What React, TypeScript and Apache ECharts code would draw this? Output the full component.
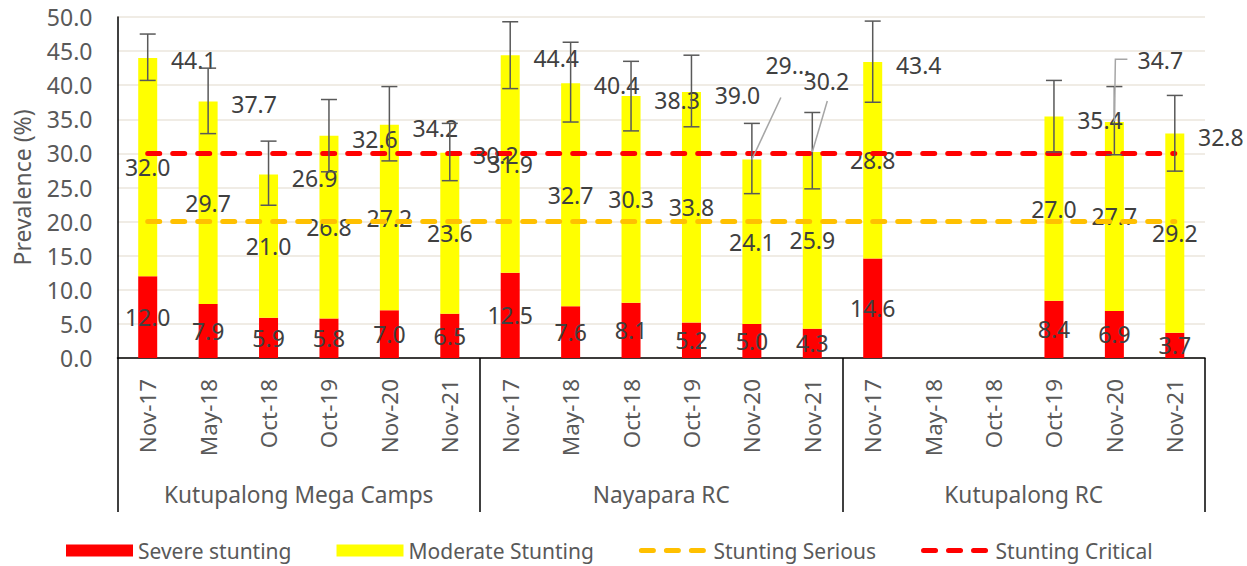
import React, { useEffect, useRef } from "react";
import * as echarts from "echarts";

// ---- data ----
const categories = [
  "Nov-17", "May-18", "Oct-18", "Oct-19", "Nov-20", "Nov-21",
  "Nov-17", "May-18", "Oct-18", "Oct-19", "Nov-20", "Nov-21",
  "Nov-17", "May-18", "Oct-18", "Oct-19", "Nov-20", "Nov-21",
];
const groups = ["Kutupalong Mega Camps", "Nayapara RC", "Kutupalong RC"];

const severe = [12.0, 7.9, 5.9, 5.8, 7.0, 6.5, 12.5, 7.6, 8.1, 5.2, 5.0, 4.3, 14.6, null, null, 8.4, 6.9, 3.7];
const moderate = [32.0, 29.7, 21.0, 26.8, 27.2, 23.6, 31.9, 32.7, 30.3, 33.8, 24.1, 25.9, 28.8, null, null, 27.0, 27.7, 29.2];
const total = [44.1, 37.7, 26.9, 32.6, 34.2, 30.2, 44.4, 40.4, 38.3, 39.0, 29.1, 30.2, 43.4, null, null, 35.4, 34.7, 32.8];
const ciLow = [40.7, 32.9, 22.4, 27.3, 28.9, 26.0, 39.5, 34.6, 33.3, 33.9, 24.1, 24.8, 37.5, null, null, 30.2, 29.8, 27.4];
const ciHigh = [47.5, 42.5, 31.8, 37.9, 39.8, 34.4, 49.3, 46.3, 43.5, 44.4, 34.4, 36.0, 49.4, null, null, 40.7, 39.8, 38.5];
const stuntingSerious = [20, 20, 20, 20, 20, 20, 20, 20, 20, 20, 20, 20, 20, 20, 20, 20, 20, 20];
const stuntingCritical = [30, 30, 30, 30, 30, 30, 30, 30, 30, 30, 30, 30, 30, 30, 30, 30, 30, 30];
const yTicks = { min: 0, max: 50, interval: 5 };

// ---- layout / style config (pixel offsets for total labels) ----
const FONT = "Noto Sans";
const AXIS_TEXT = "#595959";
const LABEL_TEXT = "#404040";
const totalLabelOffset = { dx: 46, dy: 3 };
const callouts: Record<number, { dx: number; dy: number; line: number[][]; text?: string }> = {
  10: { dx: 36, dy: -95, line: [[0, 0], [29, -62]], text: "29..." },
  11: { dx: 14, dy: -71, line: [[0, 0], [15, -51]] },
  16: { dx: 46, dy: -61, line: [[0, 0], [1, -62], [13, -62]] },
};
const DASH = { width: 5, type: [12, 13], cap: "round" };

export default function App() {
  const ref = useRef<HTMLDivElement>(null);

  useEffect(() => {
    if (!ref.current) return;
    const chart = echarts.init(ref.current, undefined, { renderer: "svg" });

    const errData = total
      .map((t, i) => (t == null ? null : { value: [i, t, ciLow[i], ciHigh[i]] }))
      .filter((d) => d != null);

    const option: any = {
      animation: false,
      textStyle: { fontFamily: FONT },
      grid: { left: 117.5, right: 42, top: 17, bottom: 208, containLabel: false },
      legend: {
        left: 61,
        top: 535,
        itemWidth: 67,
        itemHeight: 12,
        itemGap: 45,
        textStyle: { fontSize: 21, color: AXIS_TEXT, fontFamily: FONT },
        data: [
          { name: "Severe stunting", icon: "rect" },
          { name: "Moderate Stunting", icon: "rect" },
          { name: "Stunting Serious", itemStyle: { opacity: 0 }, lineStyle: { width: 5 } },
          { name: "Stunting Critical", itemStyle: { opacity: 0 }, lineStyle: { width: 5 } },
        ],
      },
      xAxis: [
        {
          type: "category",
          data: categories,
          axisLine: { show: true, lineStyle: { color: "#000", width: 1.5 } },
          axisTick: { show: false },
          axisLabel: { rotate: 90, interval: 0, margin: 21, fontSize: 22.4, color: AXIS_TEXT, fontFamily: FONT },
          splitLine: { show: false },
        },
        {
          type: "category",
          data: groups,
          position: "bottom",
          axisLine: { show: false },
          axisTick: { show: true, length: 154, interval: 0, lineStyle: { color: "#000", width: 1.5 } },
          axisLabel: { interval: 0, margin: 125, fontSize: 22.7, color: AXIS_TEXT, fontFamily: FONT },
          splitLine: { show: false },
        },
      ],
      yAxis: {
        type: "value",
        min: yTicks.min,
        max: yTicks.max,
        interval: yTicks.interval,
        name: "Prevalence (%)",
        nameLocation: "middle",
        nameGap: 84,
        nameRotate: 90,
        nameTextStyle: { fontSize: 23, color: AXIS_TEXT, fontFamily: FONT },
        axisLine: { show: true, lineStyle: { color: "#000", width: 1.5 } },
        axisTick: { show: false },
        axisLabel: {
          formatter: (v: number) => v.toFixed(1),
          fontSize: 23,
          color: AXIS_TEXT,
          margin: 25,
          fontFamily: FONT,
        },
        splitLine: { show: true, lineStyle: { color: "#EBE6DC", width: 1.5 } },
      },
      series: [
        {
          name: "Severe stunting",
          type: "bar",
          stack: "s",
          barWidth: 19,
          data: severe,
          itemStyle: { color: "#FF0000" },
          label: {
            show: true,
            position: "inside",
            formatter: (p: any) => (p.value == null ? "" : Number(p.value).toFixed(1)),
            color: LABEL_TEXT,
            fontSize: 23,
            fontFamily: FONT,
          },
          z: 2,
        },
        {
          name: "Moderate Stunting",
          type: "bar",
          stack: "s",
          barWidth: 19,
          data: moderate,
          itemStyle: { color: "#FFFF00" },
          label: {
            show: true,
            position: "inside",
            formatter: (p: any) => (p.value == null ? "" : Number(p.value).toFixed(1)),
            color: LABEL_TEXT,
            fontSize: 23,
            fontFamily: FONT,
          },
          z: 2,
        },
        {
          name: "Stunting Serious",
          type: "line",
          data: stuntingSerious,
          symbol: "none",
          lineStyle: { color: "#FFC000", ...DASH },
          itemStyle: { color: "#FFC000" },
          z: 3,
        },
        {
          name: "Stunting Critical",
          type: "line",
          data: stuntingCritical,
          symbol: "none",
          lineStyle: { color: "#FF0000", ...DASH },
          itemStyle: { color: "#FF0000" },
          z: 3,
        },
        {
          name: "Total",
          type: "custom",
          data: errData,
          encode: { x: 0, y: 1 },
          z: 4,
          clip: false,
          renderItem: (params: any, api: any) => {
            const i = api.value(0);
            const t = api.value(1);
            const lo = api.value(2);
            const hi = api.value(3);
            const p = api.coord([i, t]);
            const pl = api.coord([i, lo]);
            const ph = api.coord([i, hi]);
            const cap = 8;
            const err = { stroke: "#595959", lineWidth: 1.5 };
            const children: any[] = [
              { type: "line", shape: { x1: p[0], y1: pl[1], x2: p[0], y2: ph[1] }, style: err },
              { type: "line", shape: { x1: p[0] - cap, y1: pl[1], x2: p[0] + cap, y2: pl[1] }, style: err },
              { type: "line", shape: { x1: p[0] - cap, y1: ph[1], x2: p[0] + cap, y2: ph[1] }, style: err },
            ];
            const c = callouts[i];
            const dx = c ? c.dx : totalLabelOffset.dx;
            const dy = c ? c.dy : totalLabelOffset.dy;
            if (c) {
              children.push({
                type: "polyline",
                shape: { points: c.line.map((q) => [p[0] + q[0], p[1] + q[1]]) },
                style: { stroke: "#A6A6A6", lineWidth: 1.5, fill: null },
              });
            }
            children.push({
              type: "text",
              x: p[0] + dx,
              y: p[1] + dy,
              style: {
                text: c && c.text ? c.text : Number(t).toFixed(1),
                fill: LABEL_TEXT,
                fontSize: 23,
                fontFamily: FONT,
                align: "center",
                verticalAlign: "middle",
              },
            });
            return { type: "group", children };
          },
        },
      ],
    };

    chart.setOption(option);
    return () => chart.dispose();
  }, []);

  return (
    <div
      ref={ref}
      style={{ position: "absolute", left: 0, top: 0, width: 1247, height: 566, background: "#fff" }}
    />
  );
}
